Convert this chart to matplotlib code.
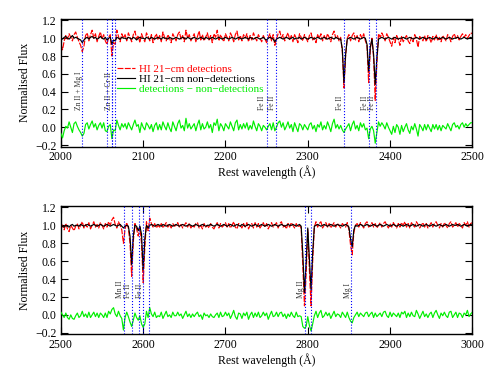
import numpy as np
import matplotlib
matplotlib.use("Agg")
import matplotlib.pyplot as plt

plt.rcParams["font.family"] = ["Liberation Serif", "DejaVu Serif"]
plt.rcParams["font.size"] = 8.5

# rest wavelength grid, 2 A sampling
wave_top = np.arange(2000, 2501, 2)
wave_bot = np.arange(2500, 3001, 2)

# HI 21-cm detections, 2000-2500 A
red_top = [
    0.93, 0.87, 0.97, 1.03, 0.99, 1.05, 1.01, 0.97, 1.04, 1.07,
    1.01, 0.96, 0.92, 0.85, 0.91, 1.03, 1.06, 0.97, 1.04, 1.09,
    1.00, 1.05, 0.96, 1.02, 1.07, 0.99, 1.04, 0.97, 0.93, 1.01,
    1.04, 0.80, 0.95, 0.93, 1.09, 1.02, 0.96, 1.05, 1.00, 1.04,
    0.97, 1.06, 1.01, 0.96, 1.04, 1.08, 0.99, 1.03, 0.95, 1.05,
    1.00, 0.96, 1.06, 1.02, 0.97, 1.04, 0.95, 1.01, 1.05, 0.98,
    1.03, 0.96, 1.07, 1.01, 0.97, 1.04, 1.00, 0.95, 1.05, 1.01,
    0.97, 1.04, 1.07, 0.99, 1.03, 0.96, 1.09, 1.00, 1.04, 0.97,
    1.01, 1.05, 0.96, 1.02, 1.08, 0.98, 1.04, 0.97, 1.01, 1.06,
    0.98, 1.03, 0.95, 1.05, 1.01, 1.09, 0.97, 1.04, 1.00, 0.96,
    1.05, 1.01, 0.97, 1.06, 1.02, 0.96, 1.04, 1.08, 0.98, 1.03,
    0.97, 1.04, 1.00, 1.05, 0.96, 1.03, 0.98, 1.06, 1.01, 0.97,
    1.04, 1.00, 0.96, 1.03, 0.99, 0.95, 1.01, 1.05, 0.97, 1.04,
    0.92, 0.99, 1.05, 1.08, 1.00, 1.04, 0.97, 1.02, 1.06, 0.98,
    1.03, 0.96, 1.04, 1.00, 0.95, 1.05, 1.01, 0.97, 1.04, 1.00,
    0.96, 1.03, 1.06, 0.98, 1.01, 0.95, 1.04, 1.00, 1.05, 0.97,
    1.03, 0.98, 1.05, 1.01, 0.96, 1.04, 1.08, 1.00, 1.03, 0.97,
    1.01, 0.85, 0.44, 0.80, 1.00, 1.04, 0.97, 1.03, 1.06, 0.98,
    1.03, 0.96, 1.04, 1.00, 1.05, 0.97, 0.92, 0.50, 0.88, 1.00,
    0.78, 0.30, 0.72, 1.05, 1.01, 1.06, 1.02, 0.97, 1.05, 1.01,
    0.96, 0.91, 1.01, 0.95, 1.03, 0.99, 0.92, 1.02, 0.96, 1.00,
    1.03, 0.97, 0.94, 1.01, 0.96, 1.04, 0.99, 0.90, 1.02, 1.00,
    0.97, 1.03, 0.96, 1.03, 1.00, 0.95, 1.02, 0.98, 1.04, 0.97,
    1.01, 0.96, 1.03, 1.00, 0.97, 1.04, 1.01, 0.96, 1.02, 1.05,
    1.00, 1.03, 0.98, 1.02, 1.05, 1.01, 1.04, 1.00, 1.03, 1.06,
    1.05,
]

# HI 21-cm non-detections, 2000-2500 A
black_top = [
    1.00, 0.99, 1.01, 1.02, 1.00, 0.99, 1.01, 1.03, 1.00, 1.01,
    1.00, 0.99, 0.98, 0.95, 0.98, 1.00, 1.01, 0.99, 1.01, 1.02,
    1.00, 1.01, 0.99, 1.00, 1.02, 1.00, 0.99, 1.01, 0.98, 1.00,
    1.01, 0.93, 0.98, 0.97, 1.01, 1.00, 0.99, 1.01, 1.00, 1.00,
    0.99, 1.01, 1.00, 0.99, 1.01, 1.00, 0.98, 1.00, 1.01, 1.00,
    1.00, 0.99, 1.01, 1.00, 0.99, 1.01, 1.00, 0.99, 1.00, 1.01,
    1.00, 0.99, 1.01, 1.00, 1.00, 0.99, 1.01, 1.00, 0.99, 1.00,
    1.01, 1.00, 0.99, 1.00, 1.01, 1.00, 0.99, 1.01, 1.00, 0.99,
    1.00, 1.01, 1.00, 0.99, 1.00, 1.01, 1.00, 0.99, 1.01, 1.00,
    0.99, 1.00, 1.01, 1.00, 0.99, 1.00, 1.01, 1.00, 0.99, 1.00,
    1.01, 1.00, 0.99, 1.00, 1.01, 1.00, 0.99, 1.00, 1.01, 1.00,
    0.99, 1.00, 1.01, 1.00, 0.99, 1.01, 1.00, 0.99, 1.00, 1.01,
    1.00, 0.99, 1.00, 1.01, 0.99, 0.98, 1.00, 1.01, 1.00, 0.99,
    0.96, 0.99, 1.00, 1.01, 1.00, 0.99, 1.00, 1.01, 1.00, 0.99,
    1.00, 1.01, 0.99, 1.00, 1.00, 1.01, 0.99, 1.00, 1.01, 1.00,
    0.99, 1.00, 1.01, 1.00, 0.99, 1.00, 1.01, 1.00, 0.99, 1.00,
    1.01, 1.00, 0.99, 1.00, 1.01, 1.00, 0.99, 1.01, 1.00, 0.99,
    0.99, 0.88, 0.50, 0.82, 0.99, 1.00, 1.01, 1.00, 0.99, 1.00,
    1.01, 1.00, 0.99, 1.00, 1.01, 1.00, 0.93, 0.63, 0.90, 0.99,
    0.82, 0.48, 0.78, 0.99, 1.00, 1.01, 1.00, 0.99, 1.00, 1.01,
    1.00, 0.99, 1.00, 1.01, 1.00, 0.99, 1.00, 1.00, 1.01, 1.00,
    0.99, 1.00, 1.01, 1.00, 0.99, 1.00, 1.01, 1.00, 0.99, 1.00,
    1.01, 1.00, 0.99, 1.00, 1.01, 1.00, 0.99, 1.00, 1.01, 1.00,
    0.99, 1.00, 1.01, 1.00, 0.99, 1.00, 1.01, 1.00, 0.99, 1.00,
    1.00, 1.01, 1.00, 0.99, 1.00, 1.01, 1.00, 0.99, 1.00, 1.01,
    1.00,
]

# HI 21-cm detections, 2500-3000 A
red_bot = [
    1.03, 0.99, 0.95, 1.02, 0.96, 0.93, 1.00, 0.97, 0.94, 0.99,
    1.02, 0.96, 1.00, 1.04, 0.97, 1.01, 0.98, 1.03, 0.96, 1.00,
    1.04, 0.98, 1.01, 0.97, 1.03, 1.00, 0.96, 1.02, 0.98, 1.04,
    1.00, 1.06, 1.09, 1.01, 0.97, 1.04, 1.00, 0.95, 0.80, 0.96,
    1.03, 0.97, 0.80, 0.43, 0.82, 1.02, 0.96, 0.88, 0.98, 0.80,
    0.36, 0.75, 1.04, 0.94, 1.08, 1.02, 0.98, 1.02, 0.97, 1.00,
    0.98, 1.02, 0.97, 1.00, 1.03, 0.98, 1.01, 0.97, 1.02, 0.99,
    1.00, 1.03, 0.98, 1.01, 0.97, 1.00, 1.03, 0.98, 1.02, 0.97,
    1.00, 0.98, 1.02, 1.03, 0.97, 1.00, 0.96, 1.02, 0.98, 1.00,
    0.97, 1.02, 0.98, 0.96, 1.00, 1.03, 0.97, 1.02, 0.98, 1.00,
    1.03, 0.98, 1.02, 0.97, 1.00, 1.04, 0.98, 0.96, 1.02, 1.00,
    0.97, 1.02, 0.98, 1.03, 0.96, 1.00, 1.02, 0.97, 1.03, 0.98,
    1.02, 0.97, 1.00, 1.03, 0.98, 1.02, 0.96, 1.00, 1.03, 0.98,
    1.00, 1.03, 0.97, 1.02, 1.04, 0.98, 1.00, 0.96, 1.02, 0.98,
    1.03, 1.00, 0.97, 1.02, 0.98, 1.00, 0.97, 0.55, 0.10, 0.45,
    0.95, 0.50, 0.10, 0.60, 0.98, 1.04, 0.98, 1.02, 1.04, 0.97,
    1.00, 1.03, 0.98, 1.02, 0.97, 1.00, 1.03, 0.98, 1.02, 1.00,
    0.97, 1.02, 1.00, 0.98, 1.03, 0.95, 0.78, 0.67, 0.92, 1.00,
    1.02, 0.98, 1.03, 1.00, 0.97, 1.02, 1.04, 0.98, 1.00, 1.03,
    0.98, 1.02, 0.97, 1.00, 1.03, 0.98, 1.02, 1.04, 1.00, 0.97,
    1.02, 0.98, 1.03, 1.00, 0.97, 1.02, 0.98, 1.03, 1.00, 1.04,
    0.98, 1.02, 0.97, 1.03, 1.00, 0.98, 1.04, 1.01, 0.97, 1.00,
    1.03, 0.98, 1.02, 0.97, 1.00, 1.03, 0.98, 1.02, 1.04, 1.00,
    0.97, 1.02, 0.98, 1.03, 1.00, 0.97, 1.02, 1.04, 0.98, 1.00,
    1.03, 0.98, 1.02, 1.00, 0.97, 1.03, 1.00, 1.04, 0.98, 1.02,
    1.03,
]

# HI 21-cm non-detections, 2500-3000 A
black_bot = [
    1.00, 0.99, 0.98, 1.00, 0.99, 0.98, 1.00, 1.01, 0.99, 1.00,
    1.00, 0.99, 1.01, 1.00, 0.99, 1.00, 1.01, 1.00, 0.99, 1.00,
    1.01, 1.00, 0.99, 1.00, 1.01, 1.00, 0.99, 1.00, 1.01, 1.00,
    0.99, 1.00, 1.01, 1.00, 0.99, 1.00, 1.01, 0.99, 0.97, 0.99,
    1.00, 0.99, 0.88, 0.56, 0.88, 1.00, 0.99, 0.94, 0.99, 0.90,
    0.50, 0.85, 1.00, 0.97, 1.00, 1.01, 1.00, 0.99, 1.00, 1.01,
    1.00, 0.99, 1.01, 1.00, 0.99, 1.00, 1.01, 1.00, 0.99, 1.00,
    1.01, 1.00, 0.99, 1.00, 1.01, 1.00, 0.99, 1.00, 1.01, 1.00,
    0.99, 1.00, 1.01, 1.00, 0.99, 1.00, 1.01, 1.00, 0.99, 1.00,
    1.00, 1.01, 1.00, 0.99, 1.00, 1.01, 1.00, 0.99, 1.00, 1.01,
    1.00, 0.99, 1.00, 1.01, 1.00, 0.99, 1.00, 1.01, 1.00, 0.99,
    1.01, 1.00, 0.99, 1.00, 1.01, 1.00, 0.99, 1.00, 1.01, 1.00,
    0.99, 1.00, 1.01, 1.00, 0.99, 1.00, 1.01, 1.00, 0.99, 1.00,
    1.01, 1.00, 0.99, 1.00, 1.01, 1.00, 0.99, 1.00, 1.01, 1.00,
    1.00, 1.01, 1.00, 0.99, 1.00, 1.01, 0.99, 0.68, 0.25, 0.58,
    0.97, 0.62, 0.28, 0.70, 0.99, 1.00, 1.01, 1.00, 0.99, 1.00,
    1.01, 1.00, 0.99, 1.00, 1.01, 1.00, 0.99, 1.00, 1.01, 1.00,
    1.00, 0.99, 1.00, 1.01, 1.00, 0.98, 0.85, 0.76, 0.95, 1.00,
    0.99, 1.00, 1.01, 1.00, 0.99, 1.00, 1.01, 1.00, 0.99, 1.00,
    1.01, 1.00, 0.99, 1.00, 1.01, 1.00, 0.99, 1.00, 1.01, 1.00,
    0.99, 1.00, 1.01, 1.00, 0.99, 1.00, 1.01, 1.00, 0.99, 1.00,
    1.01, 1.00, 0.99, 1.00, 1.01, 1.00, 0.99, 1.00, 1.01, 1.00,
    0.99, 1.00, 1.01, 1.00, 0.99, 1.00, 1.01, 1.00, 0.99, 1.00,
    1.01, 1.00, 0.99, 1.00, 1.01, 1.00, 0.99, 1.00, 1.01, 1.00,
    1.00, 1.01, 1.00, 0.99, 1.00, 1.01, 1.00, 0.99, 1.00, 1.01,
    1.00,
]

# transitions marked with dotted lines
lines_top = [2026.1, 2056.3, 2062.2, 2062.7, 2066.2, 2249.9, 2260.8, 2344.2, 2374.5, 2382.8]
lines_bot = [2576.9, 2586.7, 2594.5, 2600.2, 2606.5, 2796.4, 2803.5, 2853.0]

labels_top = ["Zn II + Mg I", "Zn II + Cr II", "Fe II", "Fe II", "Fe II", "Fe II", "Fe II"]
labels_top_x = [2021.5, 2058.5, 2244.0, 2256.0, 2339.5, 2369.5, 2378.3]
labels_bot = ["Mn II", "Fe II", "Fe II", "Mg II", "Mg I"]
labels_bot_x = [2571.5, 2582.0, 2596.0, 2791.6, 2848.8]

fig = plt.figure(figsize=(4.91, 3.74), dpi=100)
ax1 = fig.add_axes([0.124, 0.608, 0.838, 0.341])
ax2 = fig.add_axes([0.124, 0.106, 0.838, 0.343])

panels = [
    (ax1, wave_top, red_top, black_top, lines_top, labels_top, labels_top_x, (2000, 2500)),
    (ax2, wave_bot, red_bot, black_bot, lines_bot, labels_bot, labels_bot_x, (2500, 3000)),
]

for ax, wave, red, black, lines, labels, labels_x, xlim in panels:
    red = np.array(red)
    black = np.array(black)
    ax.plot(wave, red, color="red", lw=0.85, ls=(0, (5, 1.2)), label="HI 21\u2212cm detections", zorder=2)
    ax.plot(wave, black, color="black", lw=0.85, label="HI 21\u2212cm non\u2212detections", zorder=3)
    ax.plot(wave, red - black, color="#00ee00", lw=0.85, label="detections \u2212 non\u2212detections", zorder=3)
    for w in lines:
        ax.axvline(w, color="blue", ls=":", lw=0.8, zorder=4)
    for lab, x in zip(labels, labels_x):
        ax.text(x, 0.19, lab, rotation=90, ha="center", va="bottom", fontsize=5.5, color="#333333")

    ax.set_xlim(*xlim)
    ax.set_ylim(-0.218, 1.215)
    ax.set_xticks(np.arange(xlim[0], xlim[1] + 1, 100))
    ax.set_yticks(np.arange(-0.2, 1.21, 0.2))
    ax.set_yticklabels(["\u22120.2", "0.0", "0.2", "0.4", "0.6", "0.8", "1.0", "1.2"])
    ax.tick_params(direction="in", top=True, right=True, length=5, width=0.8, labelsize=8.5, pad=3)
    for s in ax.spines.values():
        s.set_linewidth(1.0)
    ax.set_ylabel("Normalised Flux", fontsize=8.5, labelpad=3)
    ax.set_xlabel("Rest wavelength (\u00c5)", fontsize=8.5, labelpad=2)

leg = ax1.legend(loc="upper left", bbox_to_anchor=(0.137, 0.645), frameon=False,
                 fontsize=8, handlelength=1.6, handletextpad=0.4, labelspacing=0.0,
                 borderpad=0, borderaxespad=0)
for txt, col in zip(leg.get_texts(), ["red", "black", "#00ee00"]):
    txt.set_color(col)

fig.savefig("out.png", dpi=100)
